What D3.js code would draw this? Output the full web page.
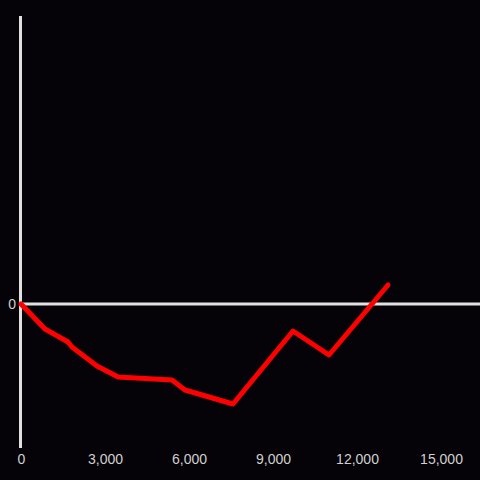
<!DOCTYPE html>
<html><head><meta charset="utf-8">
<script src="https://cdn.jsdelivr.net/npm/d3@7/dist/d3.min.js"></script>
<style>html,body{margin:0;padding:0;background:#050307;}svg{display:block;}</style>
</head><body>
<script>
const xValues = [0, 857, 1679, 1821, 2714, 3464, 5393, 5857, 7571, 9714, 11000, 13107];
const yValues = [0, -25, -38, -43, -62, -73, -76, -86, -100, -27, -51, 19];
const xTicks = [0, 3000, 6000, 9000, 12000, 15000];
const yTicks = [0];

const W = 480, H = 480;
const svg = d3.select("body").append("svg").attr("width", W).attr("height", H);
svg.append("rect").attr("width", W).attr("height", H).attr("fill", "#050307");

const x = d3.scaleLinear().domain([0, 15000]).range([21, 441]);
const y = d3.scaleLinear().domain([-144, 287]).range([448, 17]);

// y axis line
svg.append("line").attr("x1", 20.5).attr("x2", 20.5).attr("y1", 16).attr("y2", 448)
  .attr("stroke", "#e0e0e0").attr("stroke-width", 3);
// x axis line at zero
svg.append("line").attr("x1", 20).attr("x2", 480).attr("y1", y(0)).attr("y2", y(0))
  .attr("stroke", "#e0e0e0").attr("stroke-width", 3);

const xAxis = svg.append("g").attr("transform", "translate(0,448)")
  .call(d3.axisBottom(x).tickValues(xTicks).tickFormat(d3.format(",")).tickSize(0).tickPadding(6));
xAxis.select(".domain").remove();
xAxis.selectAll("text").attr("fill", "#d0d0d0").style("font-family", "Liberation Sans, Arial, sans-serif").style("font-size", "14px");

const yAxis = svg.append("g").attr("transform", "translate(20,0)")
  .call(d3.axisLeft(y).tickValues(yTicks).tickSize(0).tickPadding(4));
yAxis.select(".domain").remove();
yAxis.selectAll("text").attr("fill", "#d0d0d0").style("font-family", "Liberation Sans, Arial, sans-serif").style("font-size", "14px");

const data = xValues.map((v, i) => [v, yValues[i]]);
svg.append("path").datum(data)
  .attr("d", d3.line().x(d => x(d[0])).y(d => y(d[1])))
  .attr("fill", "none").attr("stroke", "#ff0000").attr("stroke-width", 5)
  .attr("stroke-linejoin", "round").attr("stroke-linecap", "round");
</script>
</body></html>
